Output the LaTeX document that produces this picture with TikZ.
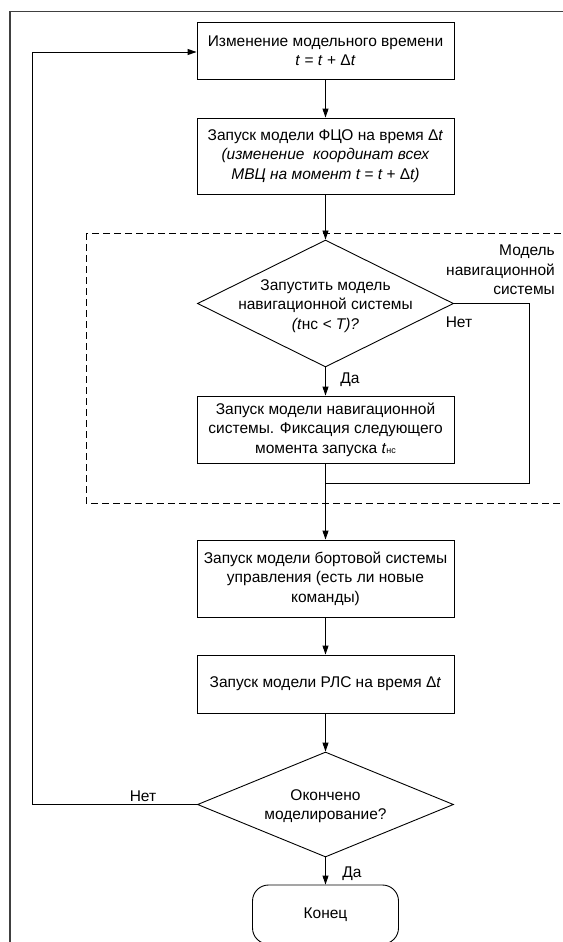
\documentclass[tikz,border=0pt]{standalone}
\usepackage{fontspec}
\setmainfont{Liberation Sans}
\usetikzlibrary{arrows.meta,shapes.geometric}
\begin{document}
\begin{tikzpicture}[x=1pt,y=-1pt,
  every node/.style={font=\fontsize{15.5}{19.5}\selectfont},
  proc/.style={draw, line width=0.9pt, minimum width=257pt, align=center, inner sep=0pt},
  dia/.style={draw, diamond, line width=0.9pt, inner sep=0pt},
  term/.style={draw, rounded corners=16pt, line width=0.9pt, minimum width=146pt, minimum height=59pt, align=center},
  arr/.style={line width=0.9pt, -{Triangle[length=9pt,width=6pt]}},
  ln/.style={line width=0.9pt},
  lbl/.style={inner sep=0pt},
  grp/.style={line width=0.9pt, dash pattern=on 7pt off 4pt},
  frame/.style={black!75, line width=1.3pt}
]
\useasboundingbox (0,0) rectangle (562,942);

% outer frame
\draw[frame] (620,11.5) -- (10,11.5) -- (10,960);

% dashed group
\draw[grp] (86,233) rectangle (620,503);
\node[lbl, align=right, anchor=east] (mlabel) at (555,270) {Модель\\навигационной\\системы};

% nodes
\node[proc, minimum height=57pt] (b1) at (325.5,50.5)
  {Изменение модельного времени\\\textit{t} = \textit{t} + Δ\textit{t}};
\node[proc, minimum height=76pt] (b2) at (325.5,156)
  {Запуск модели ФЦО на время Δ\textit{t}\\\textit{(изменение~ координат всех}\\\textit{МВЦ на момент t = t + }Δ\textit{t)}};
\node[dia, minimum width=256pt, minimum height=127pt] (d1) at (325.5,303.5) {};
\node[lbl, align=center] (d1t) at (325.5,306) {Запустить модель\\навигационной системы\\\textit{(t}нс \textit{< T)?}};
\node[proc, minimum height=67pt] (b3) at (325.5,429.5)
  {Запуск модели навигационной\\системы. Фиксация следующего\\момента запуска \textit{t}{\fontsize{9}{10}\selectfont нс}};
\node[proc, minimum height=77pt] (b4) at (325.5,578.5)
  {Запуск модели бортовой системы\\управления (есть ли новые\\команды)};
\node[proc, minimum height=58pt] (b5) at (325.5,684)
  {Запуск модели РЛС на время Δ\textit{t}};
\node[dia, minimum width=256pt, minimum height=105pt] (d2) at (325.5,804.5) {};
\node[lbl, align=center] (d2t) at (325.5,806) {Окончено\\моделирование?};
\node[term] (end) at (325.5,914.5) {Конец};

% labels
\node[lbl] (no1) at (459,322) {Нет};
\node[lbl] (yes1) at (350,380) {Да};
\node[lbl] (no2) at (143,796) {Нет};
\node[lbl] (yes2) at (352,874) {Да};

% connectors
\draw[arr] (b1) -- (b2);
\draw[arr] (b2) -- (d1);
\draw[arr] (d1) -- (b3);
\draw[arr] (b3) -- (b4);
\draw[arr] (b4) -- (b5);
\draw[arr] (b5) -- (d2);
\draw[arr] (d2) -- (end);

\coordinate (nr) at (529,483);
\draw[ln] (d1.east) -| (nr) -- (nr -| b3.south);

\coordinate (lx) at (32,52);
\draw[arr] (d2.west) -| (lx) -- (lx -| b1.west);
\end{tikzpicture}
\end{document}
